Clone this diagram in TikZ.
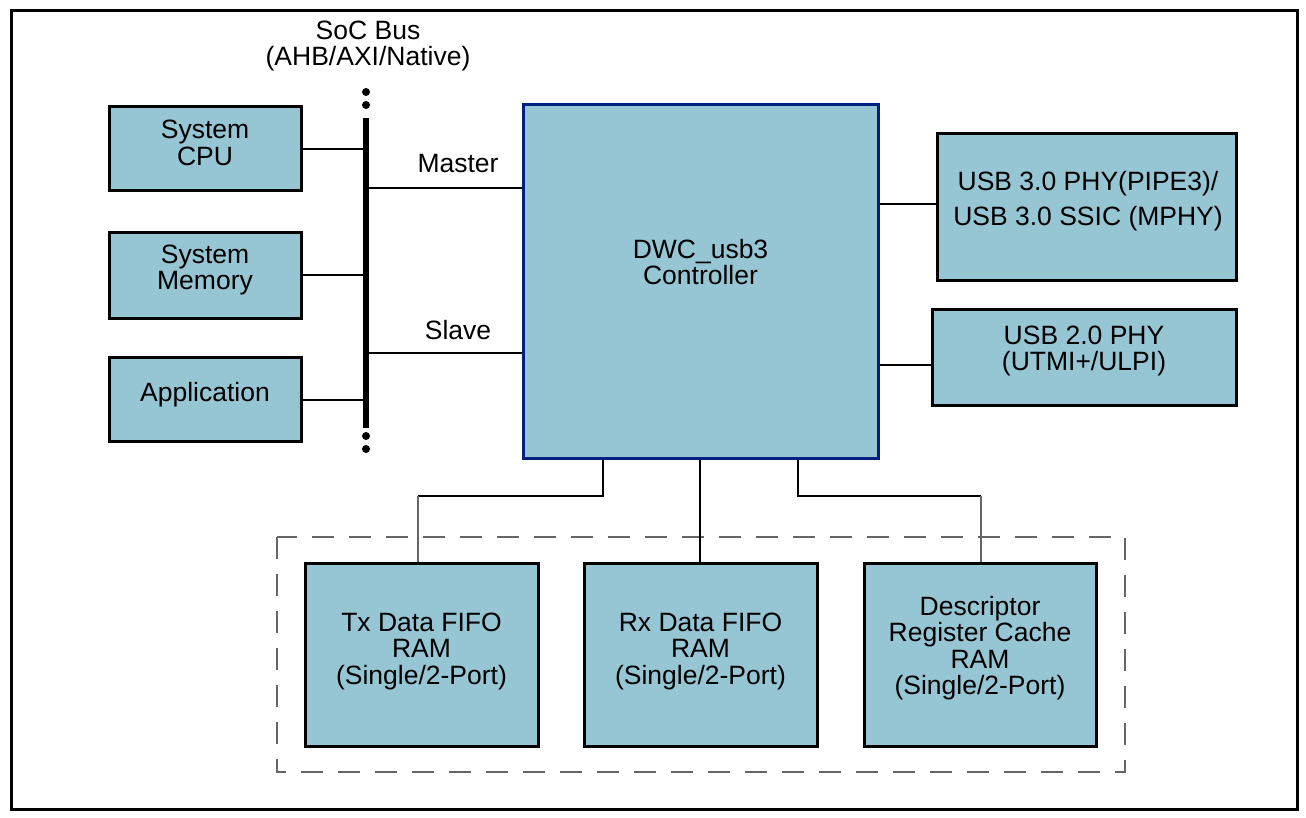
\documentclass[tikz,border=0pt]{standalone}
\usepackage{fontspec}
\setmainfont{Liberation Sans}
\begin{document}
\begin{tikzpicture}[x=1pt,y=-1pt,
  blk/.style={draw=black,line width=3pt,fill=boxblue,inner sep=0pt},
  lbl/.style={inner sep=0pt,align=center,font=\fontsize{26.5}{26.5}\selectfont},
  wire/.style={line width=2.3pt},
  gwire/.style={line width=1.6pt,draw=gray!80!black},
  dot/.style={circle,fill=black,inner sep=0pt,minimum size=8pt}]
\definecolor{boxblue}{HTML}{96C5D4}
\definecolor{navy}{HTML}{002080}
\useasboundingbox (0,0) rectangle (1306,817);
\draw[line width=3pt] (11,10) rectangle (1297,809);
% dashed group
\draw[gray!80!black,line width=1.6pt,dash pattern=on 22pt off 15pt] (277,537) rectangle (1125,772);
% left blocks
\node[blk,minimum width=192pt,minimum height=84pt] (cpu) at (205,148) {};
\node[lbl] (cput) at (205,143) {System\\CPU};
\node[blk,minimum width=192pt,minimum height=86pt] (mem) at (205,275) {};
\node[lbl] (memt) at (205,270) {System\\Memory};
\node[blk,minimum width=192pt,minimum height=84pt] (app) at (205,399) {};
\node[lbl] (appt) at (205,395) {Application};
% bus
\coordinate (bt) at (366,118);
\coordinate (bb) at (366,428);
\draw[line width=6pt] (bt) -- (bb);
\node[dot] (d1) at (366,92) {};
\node[dot] (d2) at (366,105) {};
\node[dot] (d3) at (366,436) {};
\node[dot] (d4) at (366,449) {};
\node[lbl] (bus) at (368,46) {SoC Bus\\(AHB/AXI/Native)};
% controller
\node[blk,draw=navy,minimum width=355pt,minimum height=354pt] (ctl) at (700.5,281) {};
\node[lbl] (ctlt) at (700.5,262) {DWC\_usb3\\Controller};
% PHYs
\node[blk,minimum width=299pt,minimum height=147pt] (u3) at (1086.5,206.5) {};
\node[lbl] (u3t) at (1088,201) {USB 3.0 PHY(PIPE3)/\\[8pt]USB 3.0 SSIC (MPHY)};
\node[blk,minimum width=304pt,minimum height=96pt] (u2) at (1084,357) {};
\node[lbl] (u2t) at (1084,351) {USB 2.0 PHY\\(UTMI+/ULPI)};
% RAMs
\node[blk,minimum width=233pt,minimum height=183pt] (tx) at (421.5,654.5) {};
\node[lbl] (txt) at (421.5,651) {Tx Data FIFO\\RAM\\(Single/2-Port)};
\node[blk,minimum width=233pt,minimum height=183pt] (rx) at (700.5,654.5) {};
\node[lbl] (rxt) at (700.5,651) {Rx Data FIFO\\RAM\\(Single/2-Port)};
\node[blk,minimum width=232pt,minimum height=183pt] (ds) at (980,654.5) {};
\node[lbl] (dst) at (980,648) {Descriptor\\Register Cache\\RAM\\(Single/2-Port)};
% bus connections
\draw[wire] (cpu.east |- 0,149) -- (366,149);
\draw[wire] (mem.east |- 0,275) -- (366,275);
\draw[wire] (app.east |- 0,400) -- (366,400);
\draw[wire] (366,188) -- (ctl.west |- 0,188);
\node[lbl] (ms) at (458,164) {Master};
\draw[wire] (366,353) -- (ctl.west |- 0,353);
\node[lbl] (sl) at (458,330) {Slave};
\draw[wire] (ctl.east |- 0,204) -- (u3.west |- 0,204);
\draw[wire] (ctl.east |- 0,365) -- (u2.west |- 0,365);
% RAM connections
\coordinate (j1) at (603,496);
\coordinate (j2) at (418,496);
\coordinate (j3) at (798,496);
\coordinate (j4) at (981,496);
\coordinate (jm) at (700,0);
\draw[wire] (ctl.south -| j1) -- (j1) -- (j2);
\draw[gwire] (j2) -- (j2 |- tx.north);
\draw[line width=2pt] (ctl.south -| jm) -- (rx.north -| jm);
\draw[wire] (ctl.south -| j3) -- (j3) -- (j4);
\draw[gwire] (j4) -- (j4 |- ds.north);
\end{tikzpicture}
\end{document}
